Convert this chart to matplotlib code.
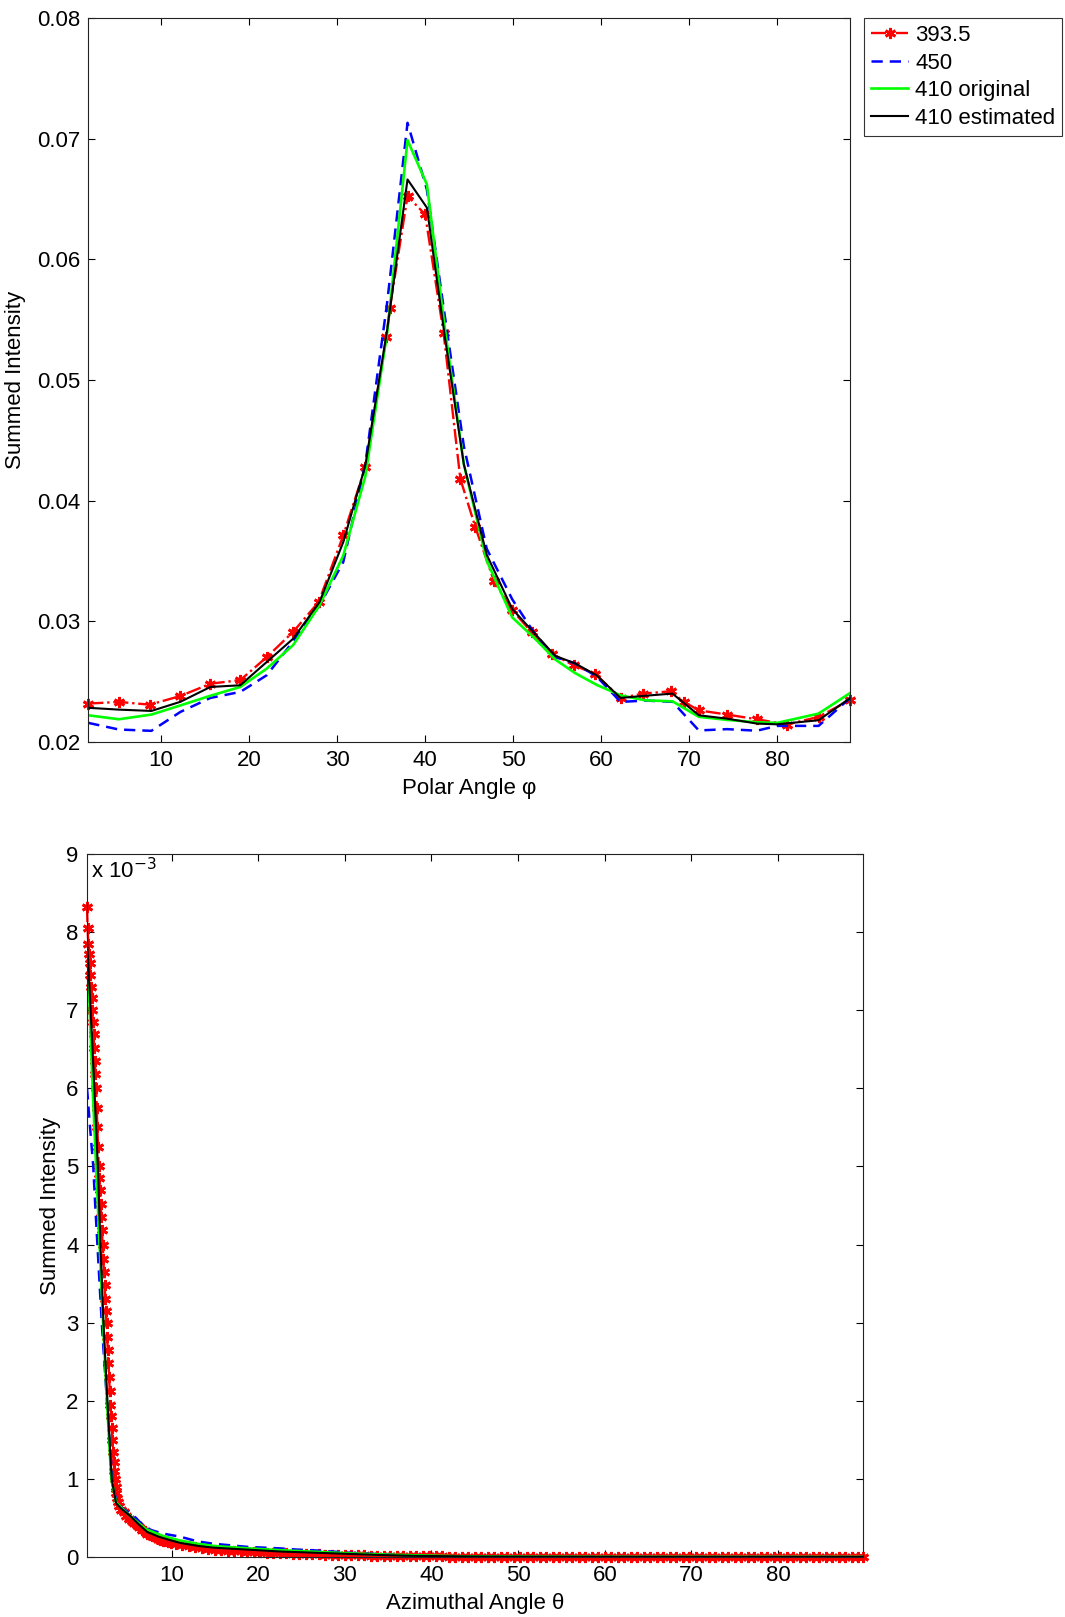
import matplotlib
matplotlib.use('Agg')
import matplotlib.pyplot as plt

plt.rcParams['font.family'] = ['Liberation Sans', 'DejaVu Sans']
plt.rcParams['font.size'] = 16

# --- Top panel: summed intensity vs polar angle ---
polar_red_x = [1.73, 5.2, 8.7, 12.2, 15.6, 19.0, 22.0, 25.0, 27.9, 30.7, 33.2, 35.6, 36.0,
               38.0, 40.0, 42.1, 44.0, 45.7, 47.8, 49.9, 52.1, 54.4, 56.9, 59.3, 62.2, 64.8,
               67.9, 69.4, 71.1, 74.3, 77.7, 81.1, 84.7, 88.27]
polar_red = [0.02315, 0.02329, 0.02306, 0.02378, 0.0248, 0.0251, 0.0270, 0.0291, 0.03157,
             0.0371, 0.04276, 0.0536, 0.0560, 0.06526, 0.06374, 0.0539, 0.0418, 0.0378,
             0.03336, 0.03088, 0.02909, 0.02729, 0.02632, 0.02563, 0.02362, 0.02398,
             0.02417, 0.02329, 0.02259, 0.02224, 0.02185, 0.02141, 0.02205, 0.02344]

polar_x = [1.73, 5.2, 8.9, 12.2, 15.6, 19.0, 22.0, 25.0, 28.0, 30.7, 33.2, 35.7, 38.0, 40.2,
           42.2, 44.4, 47.0, 49.9, 52.4, 54.8, 57.0, 59.5, 62.2, 65.0, 68.1, 71.1, 74.3,
           77.7, 80.0, 84.7, 88.27]
polar_blue = [0.02155, 0.0210, 0.02089, 0.02246, 0.02362, 0.02412, 0.0255, 0.0283, 0.0313,
              0.0349, 0.0430, 0.0565, 0.07134, 0.0658, 0.0555, 0.0445, 0.0360, 0.0318,
              0.0290, 0.0270, 0.0265, 0.0254, 0.02329, 0.0234, 0.0233, 0.02092, 0.02103,
              0.0209, 0.0213, 0.0213, 0.0236]
polar_green = [0.02218, 0.02185, 0.02224, 0.0230, 0.0238, 0.02453, 0.02605, 0.0280, 0.0313,
               0.03543, 0.0420, 0.0540, 0.0699, 0.06623, 0.0545, 0.0430, 0.0350, 0.0303,
               0.0286, 0.0268, 0.0257, 0.0247, 0.02384, 0.02342, 0.02334, 0.02205, 0.0218,
               0.0216, 0.02155, 0.02232, 0.02402]
polar_black = [0.0228, 0.02265, 0.02254, 0.0233, 0.02453, 0.02467, 0.0266, 0.02853, 0.03157,
               0.03655, 0.04289, 0.05422, 0.06664, 0.0643, 0.0538, 0.0430, 0.0355, 0.0310,
               0.0290, 0.0271, 0.0265, 0.02549, 0.02362, 0.0238, 0.02398, 0.02218, 0.0219,
               0.02149, 0.02143, 0.02177, 0.0236]

# --- Bottom panel: summed intensity (x 1e-3) vs azimuthal angle ---
azim_red_x = [0.25, 0.32, 0.4, 0.47, 0.55, 0.62, 0.7, 0.77, 0.85, 0.92,
              1.0, 1.07, 1.15, 1.22, 1.3, 1.37, 1.45, 1.52, 1.6, 1.67,
              1.75, 1.82, 1.9, 1.97, 2.05, 2.12, 2.2, 2.27, 2.35, 2.42,
              2.5, 2.57, 2.65, 2.72, 2.8, 2.87, 2.95, 3.02, 3.1, 3.17,
              3.25, 3.32, 3.4, 3.47, 3.55, 3.62, 3.7, 3.8, 3.9,
              4.2, 4.5, 4.8, 5.1, 5.4, 5.7, 6.0, 6.3, 6.6, 6.9,
              7.2, 7.5, 7.8, 8.1, 8.4, 8.7, 9.0, 9.3, 9.6, 9.9,
              10.5, 11.25, 12.0, 12.75, 13.5, 14.25, 15.0, 15.75, 16.5, 17.25,
              18.0, 18.75, 19.5, 20.25, 21.0, 21.75, 22.5, 23.25, 24.0, 24.75,
              25.5, 26.25, 27.0, 27.75, 28.5, 29.25, 30.0, 30.75, 31.5, 32.25,
              33.0, 33.75, 34.5, 35.25, 36.0, 36.75, 37.5, 38.25, 39.0, 39.75,
              40.5, 41.25, 42.0, 42.75, 43.5, 44.25, 45.0, 45.75, 46.5, 47.25,
              48.0, 48.75, 49.5, 50.25, 51.0, 51.75, 52.5, 53.25, 54.0, 54.75,
              55.5, 56.25, 57.0, 57.75, 58.5, 59.25, 60.0, 60.75, 61.5, 62.25,
              63.0, 63.75, 64.5, 65.25, 66.0, 66.75, 67.5, 68.25, 69.0, 69.75,
              70.5, 71.25, 72.0, 72.75, 73.5, 74.25, 75.0, 75.75, 76.5, 77.25,
              78.0, 78.75, 79.5, 80.25, 81.0, 81.75, 82.5, 83.25, 84.0, 84.75,
              85.5, 86.25, 87.0, 87.75, 88.5, 89.25, 89.75]
azim_red = [8.32, 8.05, 7.85, 7.72, 7.6, 7.45, 7.3, 7.15, 7.0, 6.85,
            6.7, 6.52, 6.35, 6.18, 6.0, 5.75, 5.5, 5.25, 5.0, 4.85,
            4.7, 4.52, 4.35, 4.18, 4.0, 3.82, 3.65, 3.48, 3.3, 3.15,
            3.0, 2.82, 2.65, 2.48, 2.3, 2.12, 1.95, 1.8, 1.65, 1.5,
            1.35, 1.22, 1.1, 1.0, 0.9, 0.82, 0.75, 0.7, 0.65,
            0.6, 0.57, 0.53, 0.49, 0.46, 0.43, 0.41, 0.38, 0.35, 0.33,
            0.3, 0.28, 0.265, 0.25, 0.235, 0.22, 0.21, 0.2, 0.19, 0.18,
            0.165, 0.15, 0.135, 0.123, 0.112, 0.103, 0.095, 0.088, 0.082, 0.077,
            0.072, 0.067, 0.063, 0.059, 0.055, 0.052, 0.049, 0.046, 0.043, 0.04,
            0.038, 0.036, 0.034, 0.032, 0.03, 0.028, 0.026, 0.024, 0.022, 0.02,
            0.018, 0.017, 0.016, 0.015, 0.014, 0.013, 0.012, 0.011, 0.01, 0.009,
            0.008, 0.007, 0.006, 0.006, 0.005, 0.005, 0.004, 0.004, 0.004, 0.003,
            0.003, 0.003, 0.003, 0.003, 0.003, 0.003, 0.002, 0.002, 0.002, 0.002,
            0.002, 0.002, 0.002, 0.002, 0.002, 0.002, 0.002, 0.002, 0.002, 0.002,
            0.001, 0.001, 0.001, 0.001, 0.001, 0.001, 0.001, 0.001, 0.001, 0.001,
            0.001, 0.001, 0.001, 0.001, 0.001, 0.001, 0.001, 0.001, 0.001, 0.001,
            0.0005, 0.0005, 0.0005, 0.0005, 0.0005, 0.0005, 0.0005, 0.0005, 0.0005, 0.0005,
            0.0005, 0.0005, 0.0005, 0.0005, 0.0005, 0.0005, 0.0005]

azim_blue_x = [0.25, 0.6, 0.97, 1.2, 1.45, 1.7, 1.95, 2.25, 2.55, 2.85, 3.15, 3.5, 3.8,
               4.5, 5.2, 5.9, 6.5, 7.1, 7.8, 9.0, 11.0, 13.0, 14.8, 16.8, 18.7, 20.6,
               22.6, 24.5, 26.5, 28.5, 30.4, 32.3, 34.3, 36.2, 38.1, 40.0, 42.0, 46.0,
               50.0, 60.0, 70.0, 80.0, 89.75]
azim_blue = [6.0, 5.5, 5.0, 4.5, 4.0, 3.5, 3.0, 2.5, 2.0, 1.5, 1.0, 0.78, 0.68, 0.61,
             0.56, 0.5, 0.43, 0.37, 0.34, 0.3, 0.26, 0.2, 0.17, 0.15, 0.13, 0.12, 0.11,
             0.095, 0.085, 0.07, 0.055, 0.045, 0.035, 0.026, 0.017, 0.01, 0.006, 0.002,
             0.001, 0.0005, 0.0003, 0.0002, 0.0001]

azim_green_x = [0.25, 0.5, 0.9, 1.3, 1.7, 2.1, 2.55, 3.05, 3.6, 4.5, 5.5, 7.0, 9.0, 11.0,
                13.0, 15.0, 19.0, 23.0, 27.0, 31.0, 35.0, 39.0, 43.0, 50.0, 60.0, 89.75]
azim_green = [7.6, 7.2, 6.0, 5.0, 4.0, 3.0, 2.0, 1.0, 0.7, 0.6, 0.5, 0.36, 0.27, 0.21,
              0.17, 0.14, 0.11, 0.085, 0.065, 0.045, 0.03, 0.02, 0.01, 0.005, 0.002, 0.0005]

azim_black_x = [0.25, 0.67, 1.1, 1.5, 1.8, 2.15, 2.6, 3.1, 3.6, 4.2, 5.3, 6.2, 7.2, 8.5,
                9.7, 11.0, 13.2, 14.8, 18.7, 22.6, 26.5, 30.4, 34.3, 38.0, 42.0, 46.0,
                50.0, 60.0, 70.0, 80.0, 89.75]
azim_black = [7.9, 7.0, 6.0, 5.0, 4.0, 3.0, 2.0, 1.0, 0.69, 0.62, 0.52, 0.42, 0.32, 0.26,
              0.22, 0.18, 0.14, 0.12, 0.095, 0.07, 0.055, 0.04, 0.025, 0.015, 0.01, 0.006,
              0.004, 0.002, 0.001, 0.0005, 0.0003]

labels = ['393.5', '450', '410 original', '410 estimated']
x_ticks = [10, 20, 30, 40, 50, 60, 70, 80]
polar_yticks = [0.02, 0.03, 0.04, 0.05, 0.06, 0.07, 0.08]
azim_yticks = [0, 1, 2, 3, 4, 5, 6, 7, 8, 9]

RED, BLUE, GREEN, BLACK = '#ff0000', '#0000ff', '#00ff00', '#000000'
ASTERISK = (6, 2, 0)

fig = plt.figure(figsize=(10.65, 16.17), dpi=100)
ax1 = fig.add_axes([0.0829, 0.5414, 0.7152, 0.4472])
ax2 = fig.add_axes([0.0817, 0.0371, 0.7283, 0.4348])


def style_axes(ax):
    ax.tick_params(direction='in', top=True, right=True, length=5, width=0.8,
                   labelsize=16, pad=6)
    for sp in ax.spines.values():
        sp.set_linewidth(0.8)
        sp.set_color('#222222')


# top
ax1.plot(polar_red_x, polar_red, color=RED, ls='-.', lw=1.7, marker=ASTERISK, ms=8,
         mew=2.0, clip_on=False, label=labels[0])
ax1.plot(polar_x, polar_blue, color=BLUE, ls='--', lw=1.8, dashes=(4.5, 2.8), label=labels[1])
ax1.plot(polar_x, polar_green, color=GREEN, ls='-', lw=1.9, label=labels[2])
ax1.plot(polar_x, polar_black, color=BLACK, ls='-', lw=1.5, label=labels[3])
ax1.set_xlim(1.73, 88.27)
ax1.set_ylim(0.02, 0.08)
ax1.set_xticks(x_ticks)
ax1.set_yticks(polar_yticks)
ax1.set_yticklabels(['%.2f' % t for t in polar_yticks])
ax1.set_xlabel('Polar Angle φ', fontsize=16, labelpad=5)
ax1.set_ylabel('Summed Intensity', fontsize=16, labelpad=8)
style_axes(ax1)

leg = fig.legend(loc='upper left', bbox_to_anchor=(0.8113, 0.9887), fontsize=16,
                 frameon=True, fancybox=False, handlelength=1.7, handletextpad=0.3,
                 labelspacing=0.3, borderpad=0.3, borderaxespad=0)
leg.get_frame().set_edgecolor('black')
leg.get_frame().set_linewidth(0.8)

# bottom
ax2.plot(azim_red_x, azim_red, color=RED, ls='-.', lw=1.7, marker=ASTERISK, ms=8,
         mew=2.0, clip_on=False)
ax2.plot(azim_blue_x, azim_blue, color=BLUE, ls='--', lw=1.8, dashes=(4.5, 2.8))
ax2.plot(azim_green_x, azim_green, color=GREEN, ls='-', lw=1.9)
ax2.plot(azim_black_x, azim_black, color=BLACK, ls='-', lw=1.5)
ax2.set_xlim(0.25, 89.75)
ax2.set_ylim(0, 9)
ax2.set_xticks(x_ticks)
ax2.set_yticks(azim_yticks)
ax2.set_xlabel('Azimuthal Angle θ', fontsize=16, labelpad=5)
ax2.set_ylabel('Summed Intensity', fontsize=16, labelpad=4)
ax2.text(0.005, 0.976, r'x 10$^{-3}$', transform=ax2.transAxes, fontsize=16,
         ha='left', va='center')
style_axes(ax2)

fig.savefig('out.png', dpi=100, facecolor='white')
